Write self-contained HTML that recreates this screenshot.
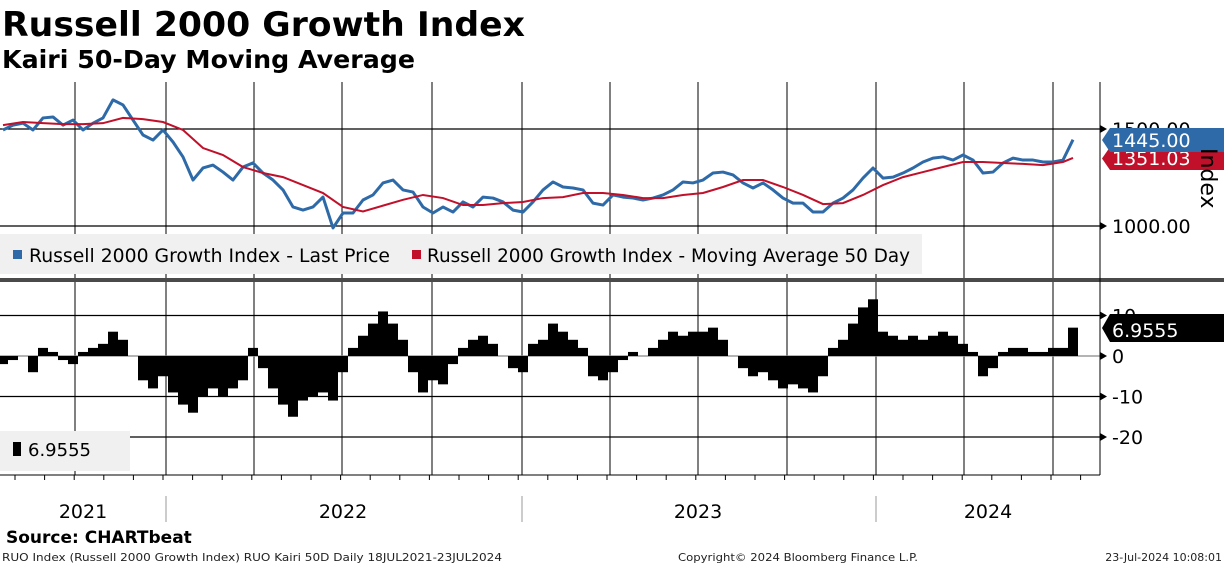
<!DOCTYPE html>
<html><head><meta charset="utf-8">
<style>
body{margin:0;width:1224px;height:566px;background:#fff;overflow:hidden;font-family:"DejaVu Sans","Liberation Sans",sans-serif;}
svg{position:absolute;left:0;top:0}
</style></head>
<body>
<svg id="c" width="1224" height="566" xmlns="http://www.w3.org/2000/svg">
<text x="2" y="36" font-size="34" font-weight="bold" textLength="523" lengthAdjust="spacingAndGlyphs">Russell 2000 Growth Index</text>
<text x="2" y="68" font-size="24.5" font-weight="bold" textLength="413" lengthAdjust="spacingAndGlyphs">Kairi 50-Day Moving Average</text>
<g id="grid"></g>
<rect x="0" y="234" width="922" height="40" fill="#f0f0f0"/>
<rect x="13" y="250" width="9" height="9" fill="#2e6aa8"/>
<text x="29" y="262" font-size="19" textLength="361" lengthAdjust="spacingAndGlyphs">Russell 2000 Growth Index - Last Price</text>
<rect x="412" y="250" width="9" height="9" fill="#c0102a"/>
<text x="427" y="262" font-size="19" textLength="483" lengthAdjust="spacingAndGlyphs">Russell 2000 Growth Index - Moving Average 50 Day</text>
<rect x="0" y="278" width="1224" height="4" fill="#4a4a4a"/>
<g id="marks"></g>
<rect x="0" y="431" width="130" height="40" fill="#f0f0f0"/>
<rect x="13" y="442" width="8" height="14" fill="#000"/>
<text x="28" y="456" font-size="18">6.9555</text>
<g id="axes"></g>
<text x="6" y="543" font-size="17" font-weight="bold">Source: CHARTbeat</text>
<text x="2" y="561" font-size="11" fill="#222" textLength="500" lengthAdjust="spacingAndGlyphs">RUO Index (Russell 2000 Growth Index) RUO Kairi 50D  Daily 18JUL2021-23JUL2024</text>
<text x="678" y="561" font-size="11" fill="#222" textLength="240" lengthAdjust="spacingAndGlyphs">Copyright© 2024 Bloomberg Finance L.P.</text>
<text x="1222" y="561" font-size="11" fill="#222" text-anchor="end">23-Jul-2024 10:08:01</text>
</svg>
<script>
const priceVals=[1495,1520,1530,1495,1557,1562,1520,1546,1495,1530,1557,1650,1624,1546,1469,1443,1495,1433,1356,1237,1299,1314,1278,1237,1304,1325,1273,1237,1186,1098,1082,1098,1149,990,1067,1067,1134,1160,1222,1237,1186,1175,1098,1067,1098,1072,1124,1098,1149,1144,1124,1082,1072,1124,1186,1227,1201,1196,1186,1118,1108,1160,1149,1144,1134,1144,1160,1186,1227,1222,1237,1273,1278,1263,1222,1196,1222,1186,1144,1118,1118,1072,1072,1118,1144,1186,1247,1299,1247,1252,1273,1299,1330,1350,1356,1340,1366,1340,1273,1278,1325,1350,1340,1340,1330,1330,1340,1445];
const maVals=[1520,1536,1530,1525,1525,1530,1557,1551,1536,1495,1402,1366,1304,1273,1252,1211,1170,1098,1075,1105,1135,1160,1144,1108,1108,1118,1124,1144,1149,1170,1170,1160,1144,1144,1160,1170,1201,1237,1237,1201,1160,1113,1118,1160,1211,1252,1278,1304,1330,1330,1325,1320,1314,1330,1351];
const kairiVals=[-2,-1,0,-4,2,1,-1,-2,1,2,3,6,4,0,-6,-8,-5,-9,-12,-14,-10,-8,-10,-8,-6,2,-3,-8,-12,-15,-11,-10,-9,-11,-4,2,5,8,11,8,4,-4,-9,-6,-7,-2,2,4,5,3,0,-3,-4,3,4,8,6,4,2,-5,-6,-4,-1,1,0,2,4,6,5,6,6,7,4,0,-3,-5,-4,-6,-8,-7,-8,-9,-5,2,4,8,12,14,6,5,4,5,4,5,6,5,3,1,-5,-3,1,2,2,1,1,2,2,7];
const yearLabels=["2021","2022","2023","2024"];
const priceTicks=[1000,1500];
const kairiTicks=[10,0,-10,-20];
const NS="http://www.w3.org/2000/svg";
const X0=3,STEP=10;
const xs=i=>X0+i*STEP;
const yP=v=>129+(1500-v)*97/500;
const yK=v=>356-v*4.05;
function el(t,a,p){const e=document.createElementNS(NS,t);for(const k in a)e.setAttribute(k,a[k]);document.getElementById(p).appendChild(e);return e;}
const qx=[75,166,254,342,432,522,610,698,787,876,964,1053];
qx.forEach(x=>{
  let g=el('line',{x1:x,y1:82,x2:x,y2:278,stroke:'#000','stroke-width':1},'grid');
  
  let g2=el('line',{x1:x,y1:282,x2:x,y2:475,stroke:'#000','stroke-width':1},'grid');
  
});
priceTicks.forEach(v=>{
  let l=el('line',{x1:0,y1:yP(v),x2:1100,y2:yP(v),stroke:'#000','stroke-width':1.3},'grid');
  
});
kairiTicks.forEach(v=>{
  let l=el('line',{x1:0,y1:yK(v),x2:1100,y2:yK(v),stroke:v===0?'#888':'#000','stroke-width':1.3},'grid');
  
});
kairiVals.forEach((v,i)=>{
  const y0=yK(0),y1=yK(v);
  let r=el('rect',{x:xs(i)-5,y:Math.min(y0,y1),width:10,height:Math.abs(y1-y0),fill:'#000'},'marks');
  
});
let d=priceVals.map((v,i)=>(i?'L':'M')+xs(i)+' '+yP(v)).join(' ');
let pl=el('path',{d:d,fill:'none',stroke:'#2e6aa8','stroke-width':3,'stroke-linejoin':'round'},'marks');

let dm=maVals.map((v,i)=>(i?'L':'M')+(i===maVals.length-1?xs(107):xs(i*2))+' '+yP(v)).join(' ');
let ml=el('path',{d:dm,fill:'none',stroke:'#c0102a','stroke-width':2},'marks');

let ax=el('line',{x1:1100,y1:82,x2:1100,y2:475,stroke:'#000'},'axes');
let bx=el('line',{x1:0,y1:475,x2:1100,y2:475,stroke:'#000'},'axes');
for(let x=15;x<1100;x+=29.6){let t=el('line',{x1:x,y1:475,x2:x,y2:480,stroke:'#000'},'axes');}
priceTicks.forEach(v=>{
  let t=el('text',{x:1112,y:yP(v)+7,'font-size':19},'axes');t.textContent=v.toFixed(2);
  
  let a=el('path',{d:`M1100 ${yP(v)-4}L1107 ${yP(v)}L1100 ${yP(v)+4}Z`,fill:'#000'},'axes');
});
kairiTicks.forEach(v=>{
  let t=el('text',{x:1112,y:yK(v)+7,'font-size':19},'axes');t.textContent=v;
  
  let a=el('path',{d:`M1100 ${yK(v)-4}L1107 ${yK(v)}L1100 ${yK(v)+4}Z`,fill:'#000'},'axes');
});
const yrX=[83,343,698,988];
yearLabels.forEach((s,i)=>{let t=el('text',{x:yrX[i],y:518,'font-size':19,'text-anchor':'middle'},'axes');t.textContent=s;});
[166,522,876].forEach(x=>{let l=el('line',{x1:x,y1:496,x2:x,y2:522,stroke:'#999'},'axes');});
function tag(y,h,fill,txt,name){
  let p=el('path',{d:`M1102 ${y+h/2}L1110 ${y}L1224 ${y}L1224 ${y+h}L1110 ${y+h}Z`,fill:fill},'axes');
  
  let t=el('text',{x:1112,y:y+h-5,'font-size':19,fill:'#fff'},'axes');t.textContent=txt;
  
}
tag(147,23,'#c0102a','1351.03','ma-value');
tag(128,24,'#2e6aa8','1445.00','price-value');
tag(314,28,'#000','6.9555','kairi-value');
let it=el('text',{x:0,y:0,'font-size':22,transform:'translate(1201,148) rotate(90)'},'axes');it.textContent='Index';

</script>
</body></html>
